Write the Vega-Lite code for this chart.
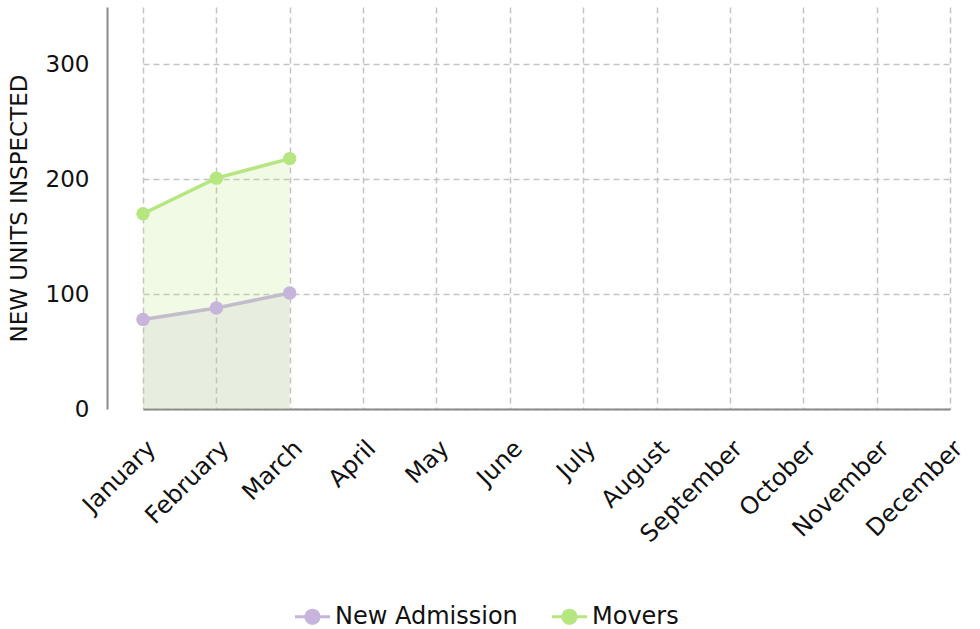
{
  "$schema": "https://vega.github.io/schema/vega-lite/v6.json",
  "autosize": {"type": "none"},
  "padding": {"left": 107, "top": 7, "right": 0, "bottom": 220},
  "width": 873,
  "height": 402,
  "background": "white",
  "config": {
    "font": "DejaVu Sans",
    "view": {"stroke": null},
    "axis": {"labelFont": "DejaVu Sans", "titleFont": "DejaVu Sans", "labelColor": "#111", "titleColor": "#111"}
  },
  "data": {
    "values": [
      {"month": "January", "series": "New Admission", "value": 78},
      {"month": "February", "series": "New Admission", "value": 88},
      {"month": "March", "series": "New Admission", "value": 101},
      {"month": "January", "series": "Movers", "value": 170},
      {"month": "February", "series": "Movers", "value": 201},
      {"month": "March", "series": "Movers", "value": 218}
    ]
  },
  "encoding": {
    "x": {
      "field": "month", "type": "ordinal",
      "scale": {"type": "point", "domain": ["January","February","March","April","May","June","July","August","September","October","November","December"], "range": [36, 843], "padding": 0},
      "axis": {
        "title": null, "labelAngle": -45, "labelFontSize": 24, "labelPadding": 27, "ticks": false,
        "domainColor": "#8a8a8a", "domainWidth": 2,
        "grid": true, "gridColor": "#c4c4c4", "gridDash": [6, 4], "gridWidth": 1.5
      }
    },
    "y": {
      "field": "value", "type": "quantitative",
      "scale": {"domain": [0, 350], "nice": false},
      "axis": {
        "title": "NEW UNITS INSPECTED", "titleFontSize": 23, "titleFontWeight": "normal", "titlePadding": 14,
        "values": [0, 100, 200, 300], "labelFontSize": 23, "labelPadding": 18, "ticks": false,
        "domainColor": "#8a8a8a", "domainWidth": 2,
        "grid": true, "gridColor": "#c4c4c4", "gridDash": [6, 4], "gridWidth": 1.5
      }
    },
    "color": {
      "field": "series", "type": "nominal",
      "scale": {"domain": ["New Admission", "Movers"], "range": ["#c6b4dc", "#b5e67f"]},
      "legend": {
        "title": null, "orient": "none", "direction": "horizontal", "legendX": 188, "legendY": 592,
        "labelFontSize": 24, "labelFont": "DejaVu Sans", "labelColor": "#111", "labelLimit": 400,
        "symbolType": "M-1,-0.09H1V0.09H-1Z M0.46,0A0.46,0.46 0 1 1 -0.46,0A0.46,0.46 0 1 1 0.46,0Z",
        "symbolSize": 1225, "symbolStrokeWidth": 0, "symbolOpacity": 1, "columnPadding": 34, "labelOffset": 5
      }
    }
  },
  "layer": [
    {"mark": {"type": "area", "opacity": 0.2}, "encoding": {"y": {"field": "value", "type": "quantitative", "stack": null}}},
    {"mark": {"type": "line", "strokeWidth": 3.5}, "encoding": {
      "stroke": {"field": "series", "type": "nominal", "scale": {"domain": ["New Admission", "Movers"], "range": ["#c3bccc", "#b5e67f"]}, "legend": null}
    }},
    {"mark": {"type": "point", "filled": true, "size": 180, "opacity": 1}}
  ]
}
